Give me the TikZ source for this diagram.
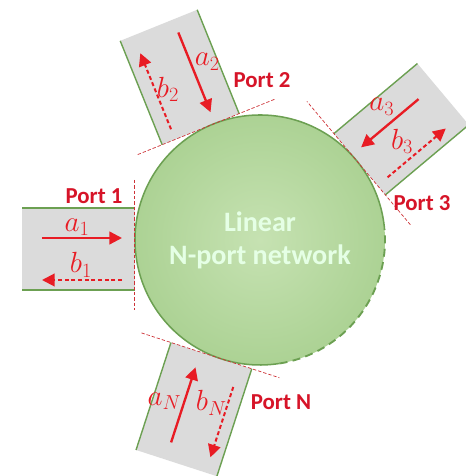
\documentclass[tikz,border=0pt]{standalone}
\usepackage{fontspec}
\newfontfamily\portfont{Carlito}
\usepackage{tikz}
\usetikzlibrary{arrows.meta}
\definecolor{portgrey}{RGB}{219,219,219}
\definecolor{edgegreen}{RGB}{108,160,82}
\definecolor{netinner}{RGB}{198,226,178}
\definecolor{netouter}{RGB}{172,210,148}
\definecolor{planered}{RGB}{205,50,55}
\definecolor{wavered}{RGB}{232,28,36}
\definecolor{labelred}{RGB}{214,20,40}
\tikzset{
  portbody/.style={fill=portgrey},
  portside/.style={draw=edgegreen,line width=1.2pt},
  refplane/.style={draw=planered,line width=0.6pt,dash pattern=on 1mm off 0.6mm},
  incident/.style={draw=wavered,line width=2pt,-{Triangle[length=3.8mm,width=3.8mm]}},
  reflected/.style={incident,line width=1.7pt,dash pattern=on 1.2mm off 0.8mm},
  wavelabel/.style={text=wavered,font=\fontsize{24}{26}\selectfont,inner sep=0pt},
  portname/.style={text=labelred,font=\portfont\bfseries\fontsize{19.5}{22}\selectfont,inner sep=0.5pt},
  network/.style={circle,minimum size=75mm,inner sep=0pt,outer sep=0pt,shading=radial,
    inner color=netinner,outer color=netouter,align=center,text=white!90!green,
    font=\portfont\bfseries\fontsize{24}{28}\selectfont},
  rim/.style={draw=edgegreen,line width=1.3pt}
}
\begin{document}
\begin{tikzpicture}[x=0.3mm,y=0.3mm]
  \useasboundingbox (-260,-236) rectangle (205,240);
  % port 1
  \begin{scope}[rotate=180]
    \fill[portbody] (125,-32) rectangle (238,50);
    \draw[portside] (125,-32) -- (238,-32) (125,50) -- (238,50);
  \end{scope}
  % port 2
  \begin{scope}[rotate=112]
    \fill[portbody] (125,-28) rectangle (237,55);
    \draw[portside] (125,-28) -- (237,-28) (125,55) -- (237,55);
  \end{scope}
  % port 3
  \begin{scope}[rotate=40]
    \fill[portbody] (125,-46) rectangle (234,34);
    \draw[portside] (125,-46) -- (234,-46) (125,34) -- (234,34);
  \end{scope}
  % port N
  \begin{scope}[rotate=252]
    \fill[portbody] (125,-53) rectangle (238,32);
    \draw[portside] (125,-53) -- (238,-53) (125,32) -- (238,32);
  \end{scope}

  % the network
  \node[network] (net) at (0,0) {Linear\\N-port network};
  \draw[rim] (net.5) arc[start angle=5,end angle=279,radius=125];
  \draw[rim,line width=1.6pt,dash pattern=on 2.4mm off 1.6mm] (net.-81) arc[start angle=-81,end angle=5,radius=125];

  % reference planes and waves
  \begin{scope}[rotate=180]
    \draw[refplane] (126,-60) -- (126,70);
    \coordinate (a1s) at (218,-2); \coordinate (a1e) at (138,-2);
    \coordinate (b1s) at (138,40); \coordinate (b1e) at (218,40);
    \node[wavelabel] (a1) at (183,-13) {$a_1$};
    \node[wavelabel] (b1) at (179,25) {$b_1$};
  \end{scope}
  \begin{scope}[rotate=112]
    \draw[refplane] (125,-66) -- (125,83);
    \coordinate (a2s) at (223,-2); \coordinate (a2e) at (137,-2);
    \coordinate (b2s) at (136,41); \coordinate (b2e) at (218,41);
    \node[wavelabel] (a2) at (185,-18) {$a_2$};
    \node[wavelabel] (b2) at (174,29) {$b_2$};
  \end{scope}
  \begin{scope}[rotate=40]
    \draw[refplane] (125,-85) -- (125,76);
    \coordinate (a3s) at (212,6); \coordinate (a3e) at (137,6);
    \coordinate (b3s) at (138,-34); \coordinate (b3e) at (214,-34);
    \node[wavelabel] (a3) at (179,24) {$a_3$};
    \node[wavelabel] (b3) at (172,-16) {$b_3$};
  \end{scope}
  \begin{scope}[rotate=252]
    \draw[refplane] (125,-84) -- (125,61);
    \coordinate (aNs) at (220,-22); \coordinate (aNe) at (141,-22);
    \coordinate (bNs) at (148,20); \coordinate (bNe) at (222,20);
    \node[wavelabel] (aN) at (183,-41) {$a_N$};
    \node[wavelabel] (bN) at (170,4) {$b_N$};
  \end{scope}
  \draw[incident] (a1s) -- (a1e);
  \draw[reflected] (b1s) -- (b1e);
  \draw[incident] (a2s) -- (a2e);
  \draw[reflected] (b2s) -- (b2e);
  \draw[incident] (a3s) -- (a3e);
  \draw[reflected] (b3s) -- (b3e);
  \draw[incident] (aNs) -- (aNe);
  \draw[reflected] (bNs) -- (bNe);

  % port names
  \node[portname] (p1) at (-166,44) {Port 1};
  \node[portname] (p2) at (2,160) {Port 2};
  \node[portname] (p3) at (162,37) {Port 3};
  \node[portname] (pN) at (21,-162) {Port N};
\end{tikzpicture}
\end{document}
